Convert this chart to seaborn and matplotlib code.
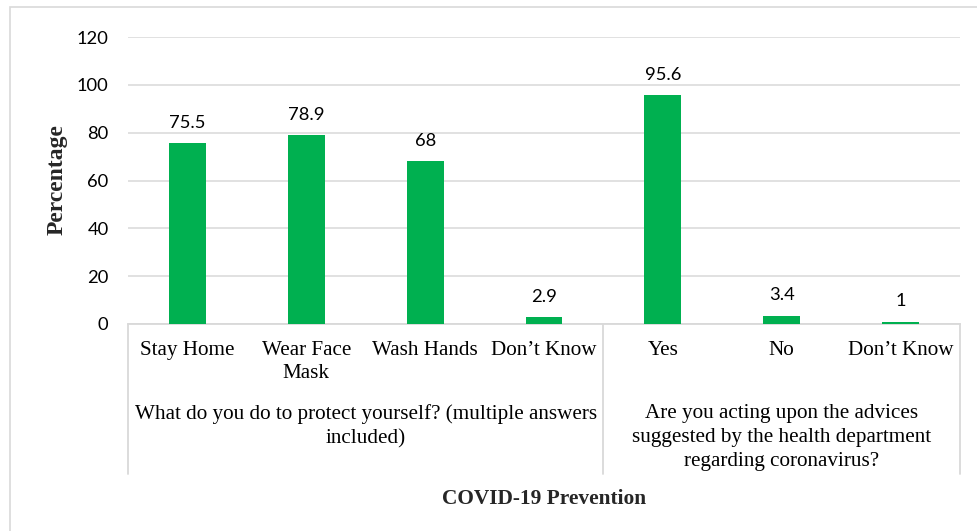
import matplotlib
matplotlib.use("Agg")
import matplotlib.pyplot as plt
import matplotlib.transforms as mtransforms
from matplotlib.patches import Rectangle
import pandas as pd
import seaborn as sns

# Survey responses on COVID-19 prevention
categories = ["Stay Home", "Wear Face\nMask", "Wash Hands", "Don\u2019t Know",
              "Yes", "No", "Don\u2019t Know"]
values = [75.5, 78.9, 68, 2.9, 95.6, 3.4, 1]
value_labels = ["75.5", "78.9", "68", "2.9", "95.6", "3.4", "1"]
groups = ["What do you do to protect yourself? (multiple answers\nincluded)",
          "Are you acting upon the advices\nsuggested by the health department\nregarding coronavirus?"]
group_sizes = [4, 3]
y_ticks = [0, 20, 40, 60, 80, 100, 120]

df = pd.DataFrame({"pos": [str(i) for i in range(len(values))], "value": values})

sns.set_theme(style="white")
plt.rcParams["font.family"] = ["Lato", "DejaVu Sans"]

W, H = 977, 531
fig = plt.figure(figsize=(W / 100, H / 100), dpi=100)
fig.patch.set_facecolor("white")

# chart-area frame
fig.patches.append(Rectangle((10 / W, 0 - 0.01), 1.0, 1 - 7 / H + 0.01,
                             transform=fig.transFigure, fill=False,
                             edgecolor="#d9d9d9", linewidth=1.2))

ax_left, ax_right = 128 / W, 960 / W
ax_bottom, ax_top = 1 - 324 / H, 1 - 37 / H
ax = fig.add_axes([ax_left, ax_bottom, ax_right - ax_left, ax_top - ax_bottom])

sns.barplot(data=df, x="pos", y="value", color="#00B050", saturation=1,
            width=0.31, linewidth=0, ax=ax, zorder=3)
ax.set_xlim(-0.5, len(values) - 0.5)
ax.set_ylim(0, 120)
ax.set_yticks(y_ticks)
ax.set_yticklabels([str(t) for t in y_ticks], fontsize=13.2, color="#000000")
ax.tick_params(axis="y", length=0, pad=14)
ax.set_xticks([])
ax.set_xlabel("")
ax.set_ylabel("")
ax.yaxis.grid(True, color="#d9d9d9", linewidth=1.1, zorder=0)
ax.set_axisbelow(True)
for side in ["left", "right", "top"]:
    ax.spines[side].set_visible(False)
ax.spines["bottom"].set_color("#d9d9d9")
ax.spines["bottom"].set_linewidth(1.3)
ax.spines["bottom"].set_zorder(2)

# value labels above bars
for i, (v, lab) in enumerate(zip(values, value_labels)):
    ax.annotate(lab, (i, v), xytext=(0, 9), textcoords="offset points",
                ha="center", va="bottom", fontsize=13.2, color="#000000")

serif = ["Liberation Serif", "DejaVu Serif"]
xfig = mtransforms.blended_transform_factory(ax.transData, fig.transFigure)

# category labels
for i, c in enumerate(categories):
    ax.text(i, 1 - 341 / H, c, transform=xfig, ha="center", va="top",
            fontsize=15.2, family=serif, linespacing=1.3, color="#000000")

# group labels and separators
start = 0
bounds = [-0.5]
for g, n in zip(groups, group_sizes):
    center = start + (n - 1) / 2
    ax.text(center, 1 - 404 / H, g, transform=xfig, ha="center", va="top",
            fontsize=15.2, family=serif, linespacing=1.36, color="#000000")
    start += n
    bounds.append(start - 0.5)
for b in bounds:
    ax.plot([b, b], [1 - 324 / H, 1 - 474 / H], transform=xfig, color="#d9d9d9",
            linewidth=1.3, clip_on=False, zorder=4)

fig.text((ax_left + ax_right) / 2, 1 - 499 / H, "COVID-19 Prevention",
         ha="center", va="center", fontsize=15.4, fontweight="bold", family=serif)
fig.text(57 / W, 1 - 180 / H, "Percentage", rotation=90, ha="center",
         va="center", fontsize=17, fontweight="bold", family=serif)

fig.savefig("out.png", dpi=100, facecolor="white")
